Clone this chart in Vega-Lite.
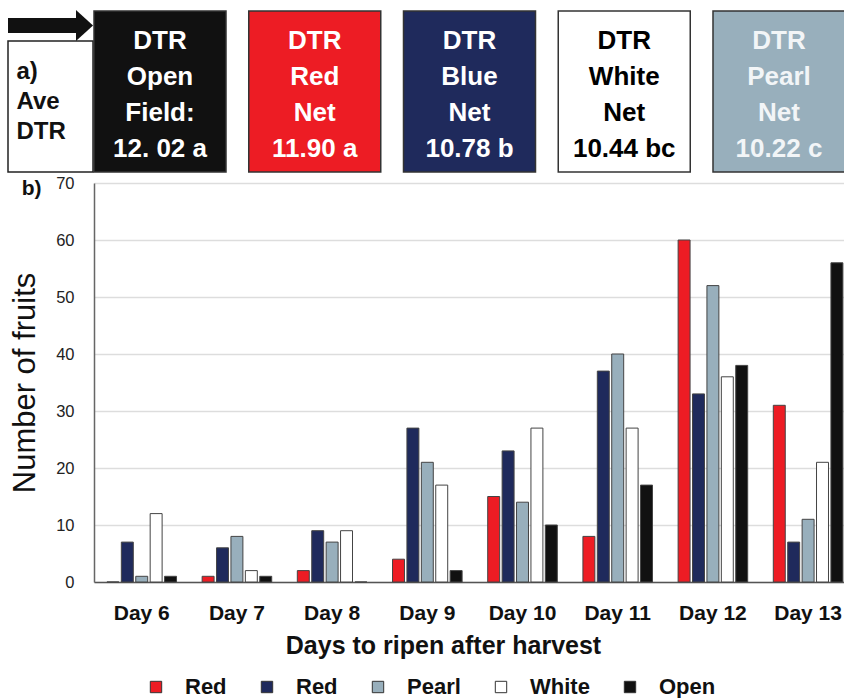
{
  "$schema": "https://vega.github.io/schema/vega-lite/v6.json",
  "background": "white",
  "padding": {"left": 0, "top": 9, "right": 0, "bottom": 0},
  "spacing": -85,
  "config": {"view": {"stroke": null}},
  "hconcat": [
    {
      "width": 85,
      "height": 161,
      "data": {"values": [{"label": "a)\nAve\nDTR"}]},
      "layer": [
        {
          "mark": {"type": "rect", "fill": "white", "stroke": "#222222", "strokeWidth": 1.5},
          "encoding": {
            "x": {"datum": 0, "type": "quantitative", "scale": {"domain": [0, 1], "nice": false, "zero": false}, "axis": null},
            "x2": {"datum": 1},
            "y": {"datum": 0, "type": "quantitative", "scale": {"domain": [0, 1], "nice": false}, "axis": null},
            "y2": {"datum": 0.814}
          }
        },
        {
          "mark": {"type": "rule", "strokeWidth": 15, "color": "#111111", "strokeCap": "butt"},
          "encoding": {
            "x": {"datum": 0, "type": "quantitative"},
            "x2": {"datum": 0.81},
            "y": {"datum": 0.91, "type": "quantitative"}
          }
        },
        {
          "mark": {"type": "point", "shape": "M-0.55,-1L0.55,0L-0.55,1Z", "filled": true, "color": "#111111", "opacity": 1, "size": 961},
          "encoding": {
            "x": {"datum": 0.9, "type": "quantitative"},
            "y": {"datum": 0.91, "type": "quantitative"}
          }
        },
        {
          "mark": {"type": "text", "align": "left", "baseline": "alphabetic", "lineBreak": "\n", "lineHeight": 30, "fontSize": 24, "fontWeight": "bold", "font": "Liberation Sans", "color": "#111111"},
          "encoding": {
            "x": {"datum": 0.1, "type": "quantitative"},
            "y": {"datum": 0.578, "type": "quantitative"},
            "text": {"field": "label"}
          }
        }
      ]
    },
    {
      "spacing": 2,
      "vconcat": [
        {
          "width": 751,
          "height": 161,
          "data": {"values": [
            {"net": "Open", "label": "DTR\nOpen\nField:\n12. 02 a"},
            {"net": "Red", "label": "DTR\nRed\nNet\n11.90 a"},
            {"net": "Blue", "label": "DTR\nBlue\nNet\n10.78 b"},
            {"net": "White", "label": "DTR\nWhite\nNet\n10.44 bc"},
            {"net": "Pearl", "label": "DTR\nPearl\nNet\n10.22 c"}
          ]},
          "encoding": {
            "x": {"field": "net", "type": "nominal", "sort": ["Open", "Red", "Blue", "White", "Pearl"], "scale": {"paddingInner": 0.147, "paddingOuter": 0}, "axis": null}
          },
          "layer": [
            {
              "mark": {"type": "rect", "stroke": "#333333", "strokeWidth": 1.5},
              "encoding": {
                "y": {"datum": 0, "type": "quantitative", "scale": {"domain": [0, 1], "nice": false}, "axis": null},
                "y2": {"datum": 1},
                "fill": {"field": "net", "type": "nominal", "scale": {"domain": ["Open", "Red", "Blue", "White", "Pearl"], "range": ["#111111", "#ED1C24", "#1F2A5C", "#FFFFFF", "#98AFBC"]}, "legend": null}
              }
            },
            {
              "mark": {"type": "text", "baseline": "alphabetic", "align": "center", "lineBreak": "\n", "lineHeight": 36, "fontSize": 26, "fontWeight": "bold", "font": "Liberation Sans"},
              "encoding": {
                "y": {"datum": 0.765, "type": "quantitative"},
                "text": {"field": "label"},
                "color": {"field": "net", "type": "nominal", "scale": {"domain": ["Open", "Red", "Blue", "White", "Pearl"], "range": ["#FFFFFF", "#FFFFFF", "#FFFFFF", "#000000", "#F2F5F7"]}, "legend": null}
              }
            }
          ],
          "resolve": {"scale": {"color": "independent", "fill": "independent"}}
        },
        {
          "width": 751,
          "height": 399,
          "title": {"text": "b)", "anchor": "start", "frame": "bounds", "fontSize": 21, "fontWeight": "bold", "font": "Liberation Sans", "color": "#111111", "offset": 0, "dx": 12, "dy": 24},
          "data": {"values": [
            {"day": "Day 6", "net": "Red", "count": 0},
            {"day": "Day 6", "net": "Blue", "count": 7},
            {"day": "Day 6", "net": "Pearl", "count": 1},
            {"day": "Day 6", "net": "White", "count": 12},
            {"day": "Day 6", "net": "Open", "count": 1},
            {"day": "Day 7", "net": "Red", "count": 1},
            {"day": "Day 7", "net": "Blue", "count": 6},
            {"day": "Day 7", "net": "Pearl", "count": 8},
            {"day": "Day 7", "net": "White", "count": 2},
            {"day": "Day 7", "net": "Open", "count": 1},
            {"day": "Day 8", "net": "Red", "count": 2},
            {"day": "Day 8", "net": "Blue", "count": 9},
            {"day": "Day 8", "net": "Pearl", "count": 7},
            {"day": "Day 8", "net": "White", "count": 9},
            {"day": "Day 8", "net": "Open", "count": 0},
            {"day": "Day 9", "net": "Red", "count": 4},
            {"day": "Day 9", "net": "Blue", "count": 27},
            {"day": "Day 9", "net": "Pearl", "count": 21},
            {"day": "Day 9", "net": "White", "count": 17},
            {"day": "Day 9", "net": "Open", "count": 2},
            {"day": "Day 10", "net": "Red", "count": 15},
            {"day": "Day 10", "net": "Blue", "count": 23},
            {"day": "Day 10", "net": "Pearl", "count": 14},
            {"day": "Day 10", "net": "White", "count": 27},
            {"day": "Day 10", "net": "Open", "count": 10},
            {"day": "Day 11", "net": "Red", "count": 8},
            {"day": "Day 11", "net": "Blue", "count": 37},
            {"day": "Day 11", "net": "Pearl", "count": 40},
            {"day": "Day 11", "net": "White", "count": 27},
            {"day": "Day 11", "net": "Open", "count": 17},
            {"day": "Day 12", "net": "Red", "count": 60},
            {"day": "Day 12", "net": "Blue", "count": 33},
            {"day": "Day 12", "net": "Pearl", "count": 52},
            {"day": "Day 12", "net": "White", "count": 36},
            {"day": "Day 12", "net": "Open", "count": 38},
            {"day": "Day 13", "net": "Red", "count": 31},
            {"day": "Day 13", "net": "Blue", "count": 7},
            {"day": "Day 13", "net": "Pearl", "count": 11},
            {"day": "Day 13", "net": "White", "count": 21},
            {"day": "Day 13", "net": "Open", "count": 56}
          ]},
          "mark": {"type": "bar", "stroke": "#444444", "strokeWidth": 1},
          "encoding": {
            "x": {
              "field": "day", "type": "nominal",
              "sort": ["Day 6", "Day 7", "Day 8", "Day 9", "Day 10", "Day 11", "Day 12", "Day 13"],
              "scale": {"paddingInner": 0.269, "paddingOuter": 0.079, "align": 0.86},
              "axis": {
                "title": "Days to ripen after harvest",
                "labelAngle": 0, "ticks": false, "labelPadding": 20,
                "labelFont": "Liberation Sans", "labelFontSize": 21, "labelFontWeight": "bold", "labelColor": "#111111",
                "domainColor": "#555555", "domainWidth": 1.5,
                "titleFont": "Liberation Sans", "titleFontSize": 25, "titleFontWeight": "bold", "titleColor": "#111111",
                "titlePadding": 10, "titleX": 349
              }
            },
            "xOffset": {"field": "net", "type": "nominal", "sort": ["Red", "Blue", "Pearl", "White", "Open"], "scale": {"paddingInner": 0.17, "paddingOuter": 0}},
            "y": {
              "field": "count", "type": "quantitative",
              "scale": {"domain": [0, 70], "nice": false},
              "axis": {
                "title": "Number of fruits",
                "values": [0, 10, 20, 30, 40, 50, 60, 70],
                "ticks": false, "labelPadding": 20,
                "labelFont": "Liberation Sans", "labelFontSize": 16.5, "labelColor": "#222222",
                "gridColor": "#dddddd", "gridWidth": 1.5,
                "domainColor": "#666666", "domainWidth": 1.5,
                "titleFont": "Liberation Sans", "titleFontSize": 31, "titleFontWeight": "normal", "titleColor": "#111111",
                "titlePadding": 14
              }
            },
            "color": {
              "field": "net", "type": "nominal",
              "scale": {"domain": ["Red", "Blue", "Pearl", "White", "Open"], "range": ["#ED1C24", "#1F2A5C", "#98AFBC", "#FFFFFF", "#111111"]},
              "legend": {
                "orient": "none", "legendX": 137, "legendY": 665, "direction": "horizontal", "title": null,
                "symbolType": "square", "symbolSize": 130, "symbolStrokeColor": "#333333", "symbolStrokeWidth": 1,
                "labelFont": "Liberation Sans", "labelFontSize": 22, "labelFontWeight": "bold", "labelColor": "#111111",
                "labelOffset": 18, "columnPadding": 29,
                "labelExpr": "datum.label == 'Blue' ? 'Red' : datum.label"
              }
            }
          }
        }
      ]
    }
  ]
}
